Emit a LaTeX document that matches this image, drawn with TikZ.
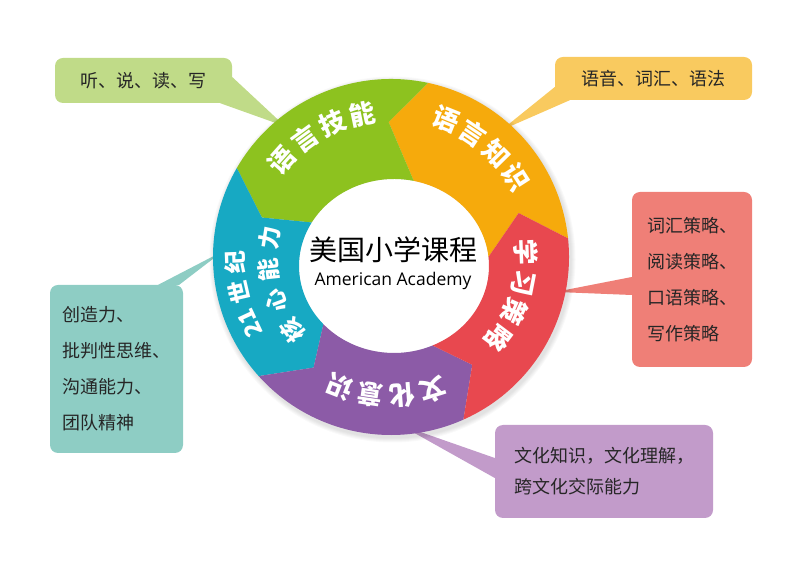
\documentclass[tikz,border=0pt]{standalone}
\usepackage{fontspec}
\setmainfont{Open Sans}
\newfontfamily\cjk{Noto Sans CJK SC}
\usetikzlibrary{positioning}
\definecolor{SkillGreen}{HTML}{8DC21F}
\definecolor{KnowOrange}{HTML}{F6AA0C}
\definecolor{StratRed}{HTML}{E8484F}
\definecolor{CultPurple}{HTML}{8C5BA7}
\definecolor{CoreTeal}{HTML}{17A9C3}
\definecolor{SkillTint}{HTML}{C0DB88}
\definecolor{KnowTint}{HTML}{F9CA5F}
\definecolor{StratTint}{HTML}{EF7F77}
\definecolor{CoreTint}{HTML}{8ECDC4}
\definecolor{CultTint}{HTML}{C29BCA}
\definecolor{Ink}{HTML}{262626}
\tikzset{
  note/.style    = {rounded corners=8pt, inner sep=0pt, align=left, text=Ink,
                    font=\cjk\fontsize{18}{36}\selectfont},
  seglbl/.style  = {inner sep=0pt, text=white, font=\cjk\bfseries\fontsize{26}{26}\selectfont},
  corelbl/.style = {seglbl, font=\cjk\bfseries\fontsize{23}{23}\selectfont},
}

\begin{document}
\begin{tikzpicture}[x=1pt, y=1pt]
  \useasboundingbox (0,0) rectangle (800,567);

  % callout boxes
  \node[note, fill=SkillTint, minimum width=177, minimum height=45] (skillnote)
    at (143.5,486.5) {听、说、读、写};
  \node[note, fill=KnowTint, minimum width=197, minimum height=43] (knownote)
    at (653.5,488.5) {语音、词汇、语法};
  \node[note, fill=StratTint, minimum width=120, minimum height=175] (stratnote)
    at (692,287.5) {词汇策略、\\阅读策略、\\口语策略、\\写作策略};
  \node[note, fill=CoreTint, minimum width=133, minimum height=168] (corenote)
    at (116.5,198) {创造力、\\批判性思维、\\沟通能力、\\团队精神};
  \node[note, fill=CultTint, minimum width=218, minimum height=93,
        font=\cjk\fontsize{18}{31}\selectfont] (cultnote)
    at (604,95.5) {文化知识，文化理解，\\跨文化交际能力};

  \begin{scope}[shift={(391,310)}]
    \coordinate (skilltip) at (129:168);
    \coordinate (knowtip)  at (49:168);
    \coordinate (strattip) at (-12:168);
    \coordinate (culttip)  at (-87:168);
    \coordinate (coretip)  at (178:168);
  \end{scope}

  % tails
  \fill[SkillTint] ([yshift=3.5]skillnote.east) -- (skilltip) -- ([xshift=-12]skillnote.south east) -- cycle;
  \fill[KnowTint] ([yshift=-8.5]knownote.west) -- (knowtip) -- ([xshift=15]knownote.south west) -- cycle;
  \fill[StratTint] ([yshift=2.5]stratnote.west) -- (strattip) -- ([yshift=-15.5]stratnote.west) -- cycle;
  \fill[CoreTint] ([xshift=-25]corenote.north east) -- (coretip) -- ([xshift=-4]corenote.north east) -- cycle;
  \fill[CultTint] ([yshift=13.5]cultnote.west) -- (culttip) -- ([yshift=-6.5]cultnote.west) -- cycle;

  % ring
  \begin{scope}[shift={(391,310)}]
    \foreach \k in {1,...,5}
      \fill[black, opacity=0.025] (1.5,-2.5) circle (178+\k);
    \fill[white] (3,-9) ellipse [x radius=95, y radius=87];
    \foreach \a/\col in {6/KnowOrange, 78/SkillGreen, 150/CoreTeal, 222/CultPurple, 294/StratRed}
      \fill[\col] (\a:178) arc[start angle=\a, end angle=\a+72, radius=178]
        -- (\a+85:135) -- ([shift={(3,-9)}]\a+72:95 and 87)
        arc[start angle=\a+72, end angle=\a, x radius=95, y radius=87]
        -- (\a+13:135) -- cycle;

    \foreach \ch/\ang [count=\i] in {语/138.3, 言/126, 技/113.8, 能/101.5}
      \node[seglbl, rotate=\ang-90] (skill\i) at (\ang:146) {\ch};
    \foreach \ch/\ang [count=\i] in {语/68.1, 言/56.3, 知/44.4, 识/32.6}
      \node[seglbl, rotate=\ang-90] (know\i) at (\ang:148) {\ch};
    \foreach \ch/\ang [count=\i] in {学/2, 习/-11, 策/-24, 略/-37}
      \node[seglbl, rotate=\ang-90] (strat\i) at (\ang:135) {\ch};
    \foreach \ch/\ang [count=\i] in {文/-72.5, 化/-85.5, 意/-98.5, 识/-111.4}
      \node[seglbl, rotate=\ang-90] (cult\i) at (\ang:139) {\ch};
    \foreach \ch/\ang [count=\i] in {21/205, 世/193, 纪/182}
      \node[corelbl, rotate=\ang-90] (coreA\i) at (\ang:156) {\ch};
    \foreach \ch/\ang [count=\i] in {核/216.5, 心/201, 能/186, 力/171}
      \node[corelbl, rotate=\ang-90] (coreB\i) at (\ang:123) {\ch};

    \node[font=\cjk\fontsize{28}{28}\selectfont, inner sep=0pt] (title) at (2,7) {美国小学课程};
    \node[font=\fontsize{17.5}{17.5}\selectfont, inner sep=0pt, below=9pt of title] (subtitle)
      {American Academy};
  \end{scope}
\end{tikzpicture}
\end{document}
